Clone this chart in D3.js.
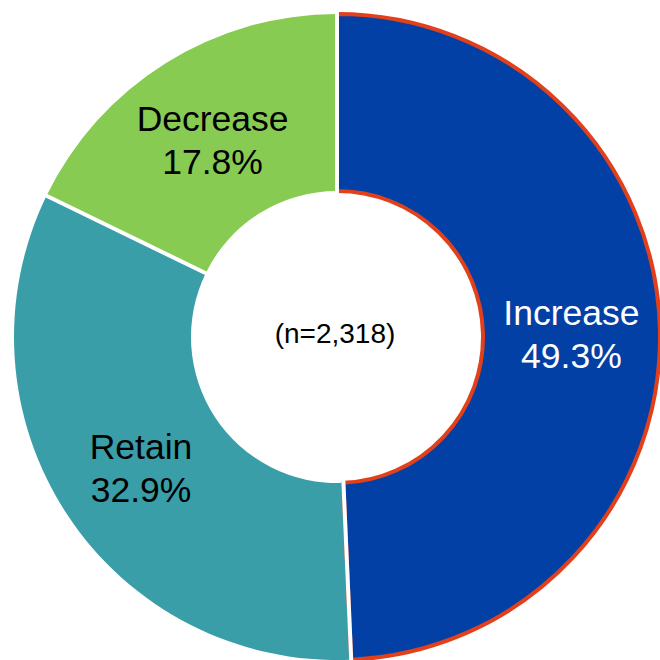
<!DOCTYPE html>
<html>
<head>
<meta charset="utf-8">
<script src="https://cdn.jsdelivr.net/npm/d3@7"></script>
<style>
  html, body { margin: 0; padding: 0; background: #ffffff; }
  svg { display: block; }
  text { font-family: "Liberation Sans", Arial, sans-serif; }
</style>
</head>
<body>
<script>
// Share of responses, clockwise from 12 o'clock
const categories = ["Increase", "Retain", "Decrease"];
const shares = [49.3, 32.9, 17.8];
const sliceColors = ["#0340A5", "#3A9EA8", "#88CB53"];
const labelColors = ["#ffffff", "#000000", "#000000"];
const sampleNote = "(n=2,318)";

const W = 660, H = 660;
const cx = 337, cy = 337;
const rOuter = 323, rInner = 146;

const svg = d3.select("body").append("svg")
  .attr("width", W).attr("height", H);

const g = svg.append("g").attr("transform", `translate(${cx},${cy})`);

const data = categories.map((c, i) => ({ name: c, value: shares[i], color: sliceColors[i], label: labelColors[i] }));

const pie = d3.pie().value(d => d.value).sort(null);
const arcs = pie(data);

const arc = d3.arc().innerRadius(rInner).outerRadius(rOuter);

// slice fills
g.selectAll("path.slice")
  .data(arcs)
  .enter().append("path")
  .attr("class", "slice")
  .attr("d", arc)
  .attr("fill", d => d.data.color);

// highlighted outline on the largest slice
g.append("path")
  .attr("d", arc(arcs[0]))
  .attr("fill", "none")
  .attr("stroke", "#E2401A")
  .attr("stroke-width", 4);

// white radial separators between slices
g.selectAll("line.sep")
  .data(arcs)
  .enter().append("line")
  .attr("class", "sep")
  .attr("x1", d => (rInner - 3) * Math.sin(d.startAngle))
  .attr("y1", d => -(rInner - 3) * Math.cos(d.startAngle))
  .attr("x2", d => (rOuter + 4) * Math.sin(d.startAngle))
  .attr("y2", d => -(rOuter + 4) * Math.cos(d.startAngle))
  .attr("stroke", "#ffffff")
  .attr("stroke-width", 4);

// slice labels: category and percentage at each arc centroid
const labelArc = d3.arc().innerRadius(rInner).outerRadius(rOuter);
const lbl = g.selectAll("g.lbl")
  .data(arcs)
  .enter().append("g")
  .attr("class", "lbl")
  .attr("transform", d => { const c = labelArc.centroid(d); return `translate(${c[0]},${c[1]})`; });

lbl.append("text")
  .attr("text-anchor", "middle")
  .attr("y", -7)
  .attr("font-size", 35.5)
  .attr("fill", d => d.data.label)
  .text(d => d.data.name);

lbl.append("text")
  .attr("text-anchor", "middle")
  .attr("y", 36)
  .attr("font-size", 35.5)
  .attr("fill", d => d.data.label)
  .text(d => d3.format(".1f")(d.data.value) + "%");

// sample size in the hole
g.append("text")
  .attr("text-anchor", "middle")
  .attr("x", -2)
  .attr("y", 6)
  .attr("font-size", 28)
  .attr("fill", "#000000")
  .text(sampleNote);
</script>
</body>
</html>
